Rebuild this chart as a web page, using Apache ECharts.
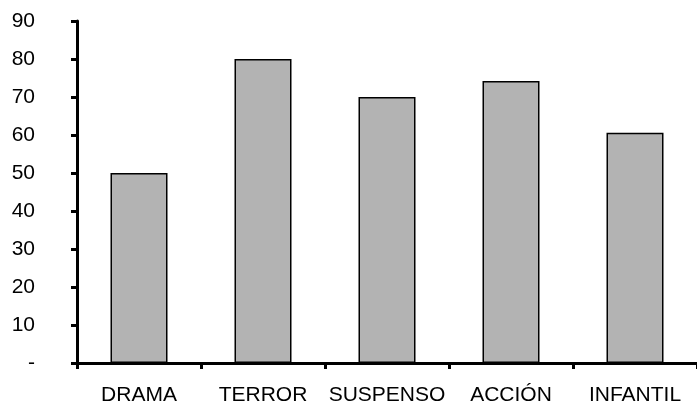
<!DOCTYPE html>
<html>
<head>
<meta charset="utf-8">
<script src="https://cdn.jsdelivr.net/npm/echarts@6/dist/echarts.min.js"></script>
<style>
  html, body { margin: 0; padding: 0; background: #fff; }
  #chart { width: 697px; height: 409px; }
</style>
</head>
<body>
<div id="chart"></div>
<script>
var categories = ['DRAMA', 'TERROR', 'SUSPENSO', 'ACCIÓN', 'INFANTIL'];
var values = [50, 80, 70, 74.2, 60.6];

var chart = echarts.init(document.getElementById('chart'));

chart.setOption({
  animation: false,
  grid: { left: 77, right: 0, top: 21, bottom: 46 },
  xAxis: {
    type: 'category',
    data: categories,
    axisLine: { lineStyle: { color: '#000', width: 3 } },
    axisTick: { show: true, length: 6, lineStyle: { color: '#000', width: 3 } },
    axisLabel: {
      color: '#000', fontSize: 21, fontFamily: 'Liberation Sans, Arial',
      margin: 22, interval: 0, hideOverlap: false
    }
  },
  yAxis: {
    type: 'value',
    min: 0,
    max: 90,
    interval: 10,
    splitLine: { show: false },
    axisLine: { show: true, lineStyle: { color: '#000', width: 3 } },
    axisTick: { show: true, length: 6, lineStyle: { color: '#000', width: 3 } },
    axisLabel: {
      color: '#000', fontSize: 21, fontFamily: 'Liberation Sans, Arial', margin: 42,
      align: 'right',
      formatter: function (v) { return v === 0 ? '-' : v; }
    }
  },
  series: [{
    type: 'bar',
    data: values,
    barWidth: 57,
    itemStyle: { color: '#b3b3b3', borderColor: '#000', borderWidth: 1.5 }
  }]
});
</script>
</body>
</html>
